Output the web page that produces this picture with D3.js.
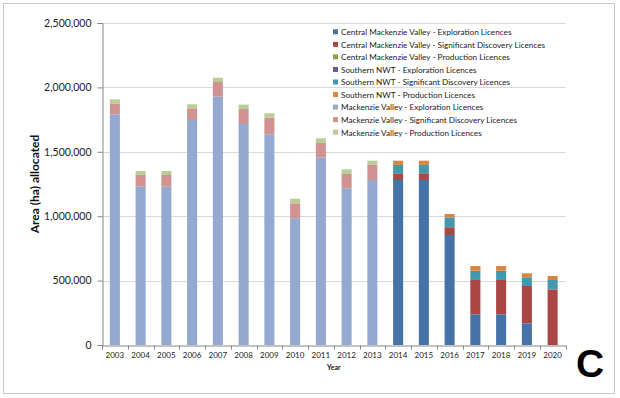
<!DOCTYPE html>
<html>
<head>
<meta charset="utf-8">
<script src="https://cdn.jsdelivr.net/npm/d3@7"></script>
<style>
  body { margin: 0; background: #fff; }
  text { font-family: Lato, "Liberation Sans", sans-serif; }
</style>
</head>
<body>
<script>
var years = ["2003","2004","2005","2006","2007","2008","2009","2010","2011","2012","2013","2014","2015","2016","2017","2018","2019","2020"];

var seriesNames = [
  "Central Mackenzie Valley - Exploration Licences",
  "Central Mackenzie Valley - Significant Discovery Licences",
  "Central Mackenzie Valley - Production Licences",
  "Southern NWT - Exploration Licences",
  "Southern NWT - Significant Discovery Licences",
  "Southern NWT - Production Licences",
  "Mackenzie Valley - Exploration Licences",
  "Mackenzie Valley - Significant Discovery Licences",
  "Mackenzie Valley - Production Licences"
];

var colors = ["#4572a7","#aa4643","#89a54e","#71588f","#4198af","#db843d","#93a9cf","#d19392","#b9cd96"];

var cmvExploration   = [0,0,0,0,0,0,0,0,0,0,0,1281000,1281000,854000,238000,238000,168000,0];
var cmvSignificant   = [0,0,0,0,0,0,0,0,0,0,0,52000,52000,60000,267000,267000,290000,432000];
var cmvProduction    = [0,0,0,0,0,0,0,0,0,0,0,0,0,0,0,0,0,0];
var snwtExploration  = [0,0,0,0,0,0,0,0,0,0,0,0,0,0,0,0,0,0];
var snwtSignificant  = [0,0,0,0,0,0,0,0,0,0,0,65000,65000,77000,72000,72000,68000,73000];
var snwtProduction   = [0,0,0,0,0,0,0,0,0,0,0,33000,33000,26000,36000,36000,31000,31000];
var mvExploration    = [1791000,1229000,1229000,1747000,1928000,1716000,1636000,984000,1457000,1217000,1281000,0,0,0,0,0,0,0];
var mvSignificant    = [85000,91000,91000,91000,114000,116000,129000,116000,111000,111000,117000,0,0,0,0,0,0,0];
var mvProduction     = [31000,31000,31000,31000,33000,34000,34000,36000,37000,36000,33000,0,0,0,0,0,0,0];

var yTicks = [0,500000,1000000,1500000,2000000,2500000];

var allSeries = [cmvExploration,cmvSignificant,cmvProduction,snwtExploration,snwtSignificant,snwtProduction,mvExploration,mvSignificant,mvProduction];

var W = 620, H = 398;
var margin = {left: 102, right: 54.5, top: 23, bottom: 53};

var svg = d3.select("body").append("svg")
  .attr("width", W)
  .attr("height", H);

// outer frame
svg.append("rect")
  .attr("x", 3.5).attr("y", 3.5)
  .attr("width", 611).attr("height", 390)
  .attr("fill", "#fff")
  .attr("stroke", "#c8c8c8");

var x = d3.scaleBand()
  .domain(years)
  .range([margin.left, W - margin.right])
  .paddingInner(0.61)
  .paddingOuter(0.305);

var y = d3.scaleLinear()
  .domain([0, 2500000])
  .range([H - margin.bottom, margin.top]);

// gridlines
svg.append("g").selectAll("line")
  .data(yTicks.slice(1))
  .enter().append("line")
  .attr("x1", margin.left).attr("x2", W - margin.right)
  .attr("y1", function(d){ return Math.round(y(d)) + 0.5; })
  .attr("y2", function(d){ return Math.round(y(d)) + 0.5; })
  .attr("stroke", "#d9d9d9");

// stacked bars
var table = years.map(function(yr, i){
  var row = {year: yr};
  allSeries.forEach(function(s, k){ row[k] = s[i]; });
  return row;
});
var stack = d3.stack().keys(d3.range(allSeries.length));
var layers = stack(table);

svg.append("g").selectAll("g")
  .data(layers)
  .enter().append("g")
  .attr("fill", function(d){ return colors[d.key]; })
  .selectAll("rect")
  .data(function(d){ return d; })
  .enter().append("rect")
  .attr("x", function(d){ return x(d.data.year); })
  .attr("width", x.bandwidth())
  .attr("y", function(d){ return y(d[1]); })
  .attr("height", function(d){ return y(d[0]) - y(d[1]); });

// y axis
var yAxis = d3.axisLeft(y)
  .tickValues(yTicks)
  .tickSize(5)
  .tickPadding(6)
  .tickFormat(d3.format(","));
var gy = svg.append("g")
  .attr("transform", "translate(" + (margin.left + 0.5) + ",0)")
  .call(yAxis);
gy.select(".domain").attr("stroke", "#868686");
gy.selectAll(".tick line").attr("stroke", "#868686");
gy.selectAll("text").attr("font-size", 10.5).attr("fill", "#222")
  .style("font-family", "Lato, 'Liberation Sans', sans-serif");

// x axis
var xAxis = d3.axisBottom(x).tickSize(0).tickPadding(7);
var gx = svg.append("g")
  .attr("transform", "translate(0," + (H - margin.bottom + 0.5) + ")")
  .call(xAxis);
gx.select(".domain").attr("stroke", "#868686");
gx.selectAll("text").attr("font-size", 8).attr("fill", "#222")
  .style("font-family", "Lato, 'Liberation Sans', sans-serif");
// tick marks between categories
gx.append("g").selectAll("line")
  .data(d3.range(years.length + 1))
  .enter().append("line")
  .attr("x1", function(i){ return Math.round(margin.left + i * x.step()) + 0.5; })
  .attr("x2", function(i){ return Math.round(margin.left + i * x.step()) + 0.5; })
  .attr("y1", 0).attr("y2", 4)
  .attr("stroke", "#868686");

// axis titles
svg.append("text")
  .attr("transform", "translate(39," + ((margin.top + H - margin.bottom) / 2) + ") rotate(-90)")
  .attr("text-anchor", "middle")
  .attr("font-size", 12)
  .attr("font-weight", "bold")
  .attr("fill", "#111")
  .text("Area (ha) allocated");

svg.append("text")
  .attr("x", (margin.left + W - margin.right) / 2)
  .attr("y", 370)
  .attr("text-anchor", "middle")
  .attr("font-size", 7)
  .attr("font-weight", "bold")
  .attr("fill", "#111")
  .text("Year");

// panel letter
svg.append("text")
  .attr("x", 590)
  .attr("y", 377)
  .attr("text-anchor", "middle")
  .attr("font-size", 39)
  .attr("font-weight", "bold")
  .style("font-family", "'Liberation Sans', Arial, sans-serif")
  .attr("fill", "#000")
  .text("C");

// legend
var legend = svg.append("g").selectAll("g")
  .data(seriesNames)
  .enter().append("g")
  .attr("transform", function(d, i){ return "translate(333," + (32.3 + i * 12.55) + ")"; });
legend.append("rect")
  .attr("x", 0).attr("y", -3)
  .attr("width", 5).attr("height", 5)
  .attr("fill", function(d, i){ return colors[i]; });
legend.append("text")
  .attr("x", 8)
  .attr("y", 0)
  .attr("dy", "0.35em")
  .attr("font-size", 8.2)
  .attr("fill", "#222")
  .text(function(d){ return d; });
</script>
</body>
</html>
